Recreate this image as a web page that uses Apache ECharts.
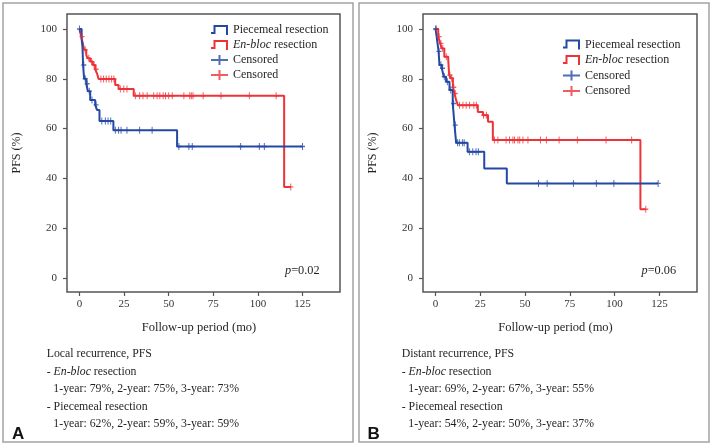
<!DOCTYPE html>
<html><head><meta charset="utf-8">
<script src="https://cdn.jsdelivr.net/npm/echarts@6/dist/echarts.min.js"></script>
<style>html,body{margin:0;padding:0;background:#fff}#c{width:713px;height:445px}</style>
</head><body><div id="c"></div>
<script>
// ---------- data ----------
const xTicks = [0, 25, 50, 75, 100, 125];
const yTicks = [0, 20, 40, 60, 80, 100];
const seriesNames = ['Piecemeal resection', 'En-bloc resection', 'Censored (piecemeal)', 'Censored (en-bloc)'];

// Panel A: local recurrence — event times (mo) and PFS (%) after each step
const aPieceTime = [0, 1.2, 1.7, 2.0, 2.6, 3.8, 4.7, 6.0, 8.8, 9.8, 11.2, 19.0, 54.7];
const aPieceSurv = [100, 96, 92.5, 85.5, 80, 78, 75, 71.5, 69.5, 67.5, 63, 59.3, 52.8];
const aPieceEnd = 125;
const aPieceCensor = [0, 2.4, 3.2, 4.3, 5.5, 7, 9.3, 12.5, 14.5, 16, 17.5, 20.1, 21.9, 23.3, 26.6, 33.7, 40.7, 55.7, 61.3, 63.2, 90.3, 100.8, 103.6, 125];

const aBlocTime = [0, 0.96, 1.9, 2.6, 3.8, 4.5, 6.0, 7.5, 8.8, 9.8, 10.7, 20.0, 21.9, 30.4, 114.7];
const aBlocSurv = [100, 96.9, 94.2, 91.6, 89.5, 88.2, 86.9, 85.5, 83.8, 82.2, 79.9, 77.5, 75.9, 73.2, 36.6];
const aBlocEnd = 118.4;
const aBlocCensor = [1.4, 3.2, 5.2, 6.8, 8.2, 9.3, 12, 13.5, 15, 16.5, 18, 19.3, 22.9, 24.8, 26.6, 31.3, 33.7, 35.6, 37.9, 41.6, 43.5, 45, 46.9, 48.2, 50, 52, 58.5, 61.8, 62.7, 63.6, 69.3, 79.3, 95.2, 110.2, 118.4];

// Panel B: distant recurrence
const bPieceTime = [0, 0.6, 1.7, 2.2, 3.5, 4.6, 5.9, 7.8, 9.6, 10.6, 11.5, 17.9, 27.2, 39.8];
const bPieceSurv = [100, 97, 91, 85.5, 84.2, 80.8, 78.8, 75.5, 70.1, 61.4, 54.3, 50.7, 44, 38];
const bPieceEnd = 124.3;
const bPieceCensor = [0, 1.9, 3, 3.9, 4.9, 6.6, 8.5, 10.1, 11.0, 12.3, 13.3, 15.1, 16, 18.9, 20.8, 22.6, 23.9, 57.5, 62.3, 77, 89.8, 99.6, 124.3];

const bBlocTime = [0, 1.5, 2.6, 3.4, 4.9, 7.1, 7.6, 8.5, 9.7, 10.6, 11.5, 12.5, 23.6, 26.5, 29.3, 32.0, 114.4];
const bBlocSurv = [100, 96.9, 94.2, 92.2, 88.8, 87.5, 81.5, 80.2, 76.6, 74.1, 71.4, 69.4, 66.7, 65.4, 62.7, 55.4, 27.6];
const bBlocEnd = 117.4;
const bBlocCensor = [0.5, 2, 3, 4, 6, 8, 9, 10.2, 11, 13.4, 15.3, 17.1, 19, 21.4, 22.8, 26.8, 28.4, 32.9, 34.8, 39.4, 41.3, 43.2, 44.1, 46, 47, 48.8, 51.6, 58.6, 61.9, 69, 79.2, 95.2, 109.5, 117.4];

// ---------- helpers ----------
const BLUE = '#2449a3', RED = '#ee3338', INK = '#231f20';
const SERIF = "'Liberation Serif', 'Times New Roman', serif";
const SANS = "'Liberation Sans', Arial, sans-serif";
function stepData(t, s, end) {
  const d = t.map((v, i) => [v, s[i]]);
  d.push([end, s[s.length - 1]]);
  return d;
}
function censorData(t, s, ct) {
  return ct.map(c => {
    let v = s[0];
    for (let i = 0; i < t.length; i++) if (t[i] <= c) v = s[i];
    return [c, v];
  });
}
const plusPath = 'path://M4,0H6V4H10V6H6V10H4V6H0V4H4Z';
const stepIcon = 'path://M0,7H2.5V0H17V10H15V2H4.5V9H0Z';
const censIcon = 'path://M0,4H7.5V0H9.5V4H17V6H9.5V10H7.5V6H0Z';

function lineS(name, idx, data, color) {
  return { type: 'line', name, xAxisIndex: idx, yAxisIndex: idx, step: 'end', symbol: 'none',
    data, itemStyle: { color }, lineStyle: { color, width: 2 }, silent: true, z: 2 };
}
function censS(name, idx, data, color) {
  return { type: 'scatter', name, xAxisIndex: idx, yAxisIndex: idx, symbol: plusPath, symbolSize: [5, 7],
    data, itemStyle: { color }, silent: true, z: 3 };
}
function xAx(idx) {
  return { type: 'value', gridIndex: idx, min: -7, max: 146, position: 'bottom',
    axisLine: { show: false, onZero: false }, splitLine: { show: false },
    axisTick: { show: true, customValues: xTicks, length: 4, inside: false, lineStyle: { color: '#555', width: 1.2 } },
    axisLabel: { customValues: xTicks, margin: 7, fontFamily: SERIF, fontSize: 11, color: '#333' },
    name: 'Follow-up period (mo)', nameLocation: 'middle', nameGap: 29,
    nameTextStyle: { fontFamily: SERIF, fontSize: 12.5, color: INK, padding: [0, 9, 0, 0] } };
}
function yAx(idx) {
  return { type: 'value', gridIndex: idx, min: -5.6, max: 106, position: 'left',
    axisLine: { show: false, onZero: false }, splitLine: { show: false },
    axisTick: { show: true, customValues: yTicks, length: 4, lineStyle: { color: '#555', width: 1.2 } },
    axisLabel: { customValues: yTicks, margin: 10, fontFamily: SERIF, fontSize: 11, color: '#333' },
    name: 'PFS (%)', nameLocation: 'middle', nameGap: 44,
    nameTextStyle: { fontFamily: SERIF, fontSize: 12, color: INK } };
}
const LFS = 12;
const legendText = {
  fontFamily: SERIF, fontSize: LFS, color: INK, lineHeight: 15,
  rich: { i: { fontFamily: SERIF, fontSize: LFS, color: INK, fontStyle: 'italic', lineHeight: 15 },
          n: { fontFamily: SERIF, fontSize: LFS, color: INK, lineHeight: 15 } }
};
function legendFmt(name) {
  if (name.indexOf('Censored') === 0) return '{n|Censored}';
  if (name === 'En-bloc resection') return '{i|En-bloc}{n| resection}';
  return '{n|' + name + '}';
}
function legend(left, top, gap) {
  return { left, top, orient: 'vertical', padding: 0, itemWidth: 17, itemHeight: 10, itemGap: gap,
    selectedMode: false, itemStyle: { borderWidth: 0 }, textStyle: legendText, formatter: legendFmt,
    data: [{ name: seriesNames[0], icon: stepIcon }, { name: seriesNames[1], icon: stepIcon },
           { name: seriesNames[2], icon: censIcon }, { name: seriesNames[3], icon: censIcon }] };
}
function txt(x, y, text, opts) {
  const o = opts || {};
  const fs = o.fontSize || 11.8;
  return { type: 'text', x, y, silent: true, style: Object.assign({ text, fontFamily: SERIF, fontSize: fs,
    fill: INK, verticalAlign: 'middle',
    rich: { i: { fontFamily: SERIF, fontSize: fs, fontStyle: 'italic', fill: INK } } }, o) };
}

const chart = echarts.init(document.getElementById('c'), null, { renderer: 'canvas' });
chart.setOption({
  animation: false,
  backgroundColor: '#fff',
  textStyle: { fontFamily: SERIF },
  grid: [
    { left: 67, top: 14, width: 273, height: 278, show: true, borderColor: '#555', borderWidth: 1.5, backgroundColor: 'transparent' },
    { left: 423, top: 14, width: 274, height: 278, show: true, borderColor: '#555', borderWidth: 1.5, backgroundColor: 'transparent' }
  ],
  xAxis: [xAx(0), xAx(1)],
  yAxis: [yAx(0), yAx(1)],
  legend: [legend(211, 22.5, 0), legend(563, 37, 0.5)],
  series: [
    lineS(seriesNames[1], 0, stepData(aBlocTime, aBlocSurv, aBlocEnd), RED),
    lineS(seriesNames[0], 0, stepData(aPieceTime, aPieceSurv, aPieceEnd), BLUE),
    censS(seriesNames[3], 0, censorData(aBlocTime, aBlocSurv, aBlocCensor), RED),
    censS(seriesNames[2], 0, censorData(aPieceTime, aPieceSurv, aPieceCensor), BLUE),
    lineS(seriesNames[1], 1, stepData(bBlocTime, bBlocSurv, bBlocEnd), RED),
    lineS(seriesNames[0], 1, stepData(bPieceTime, bPieceSurv, bPieceEnd), BLUE),
    censS(seriesNames[3], 1, censorData(bBlocTime, bBlocSurv, bBlocCensor), RED),
    censS(seriesNames[2], 1, censorData(bPieceTime, bPieceSurv, bPieceCensor), BLUE)
  ],
  graphic: [
    { type: 'rect', shape: { x: 3, y: 3, width: 350, height: 439 }, style: { fill: 'none', stroke: '#a3a3a3', lineWidth: 1.5 }, silent: true },
    { type: 'rect', shape: { x: 359, y: 3, width: 350, height: 439 }, style: { fill: 'none', stroke: '#a3a3a3', lineWidth: 1.5 }, silent: true },
    txt(285, 270.7, '{i|p}=0.02', { fontSize: 12.3 }),
    txt(641.5, 270.7, '{i|p}=0.06', { fontSize: 12.3 }),
    txt(46.7, 354.3, 'Local recurrence, PFS'),
    txt(46.7, 371.5, '- {i|En-bloc} resection'),
    txt(53.3, 389.3, '1-year: 79%, 2-year: 75%, 3-year: 73%'),
    txt(46.7, 406.7, '- Piecemeal resection'),
    txt(53.3, 424.3, '1-year: 62%, 2-year: 59%, 3-year: 59%'),
    txt(401.7, 354.3, 'Distant recurrence, PFS'),
    txt(401.7, 371.5, '- {i|En-bloc} resection'),
    txt(408.3, 389.3, '1-year: 69%, 2-year: 67%, 3-year: 55%'),
    txt(401.7, 406.7, '- Piecemeal resection'),
    txt(408.3, 424.3, '1-year: 54%, 2-year: 50%, 3-year: 37%'),
    { type: 'text', x: 12, y: 434, silent: true, style: { text: 'A', fontFamily: SANS, fontWeight: 'bold', fontSize: 17, fill: '#111', verticalAlign: 'middle' } },
    { type: 'text', x: 367.5, y: 434, silent: true, style: { text: 'B', fontFamily: SANS, fontWeight: 'bold', fontSize: 17, fill: '#111', verticalAlign: 'middle' } }
  ]
});
</script></body></html>
